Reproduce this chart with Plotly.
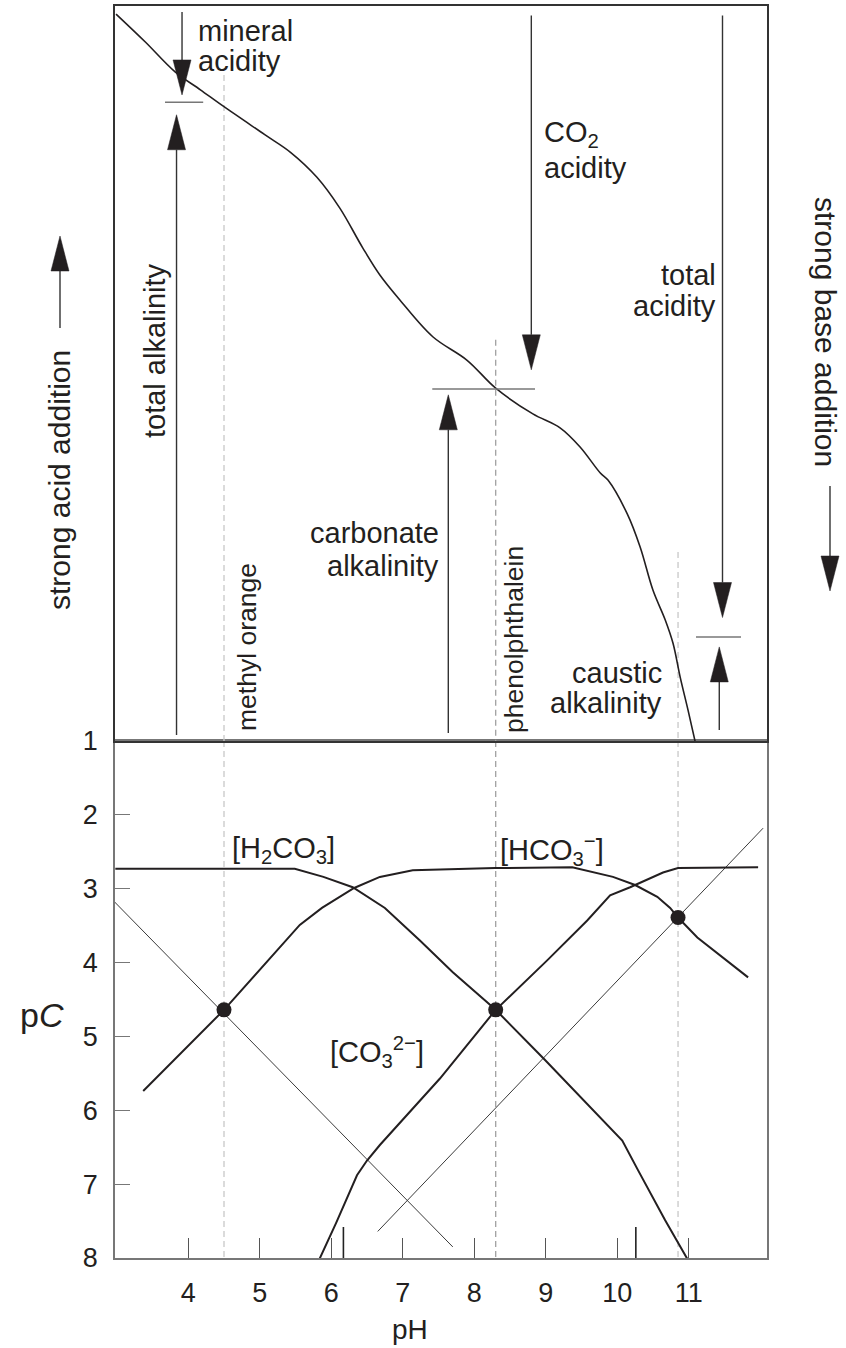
import plotly.graph_objects as go

# ---------------- data ----------------
# lower panel: pC-pH diagram
ph_h2co3 = [2.98, 5.49, 5.89, 6.30, 6.75, 7.24, 7.70, 8.30, 8.99, 9.44, 9.90, 10.07, 10.29, 10.67, 11.05]
pc_h2co3 = [2.73, 2.73, 2.84, 2.98, 3.26, 3.70, 4.13, 4.64, 5.32, 5.77, 6.24, 6.41, 6.81, 7.49, 8.13]

ph_hco3 = [3.37, 4.50, 5.56, 5.87, 6.32, 6.68, 7.14, 8.29, 9.37, 9.94, 10.25, 10.56, 10.74, 10.85, 11.12, 11.83]
pc_hco3 = [5.74, 4.64, 3.49, 3.26, 2.99, 2.84, 2.75, 2.72, 2.71, 2.84, 2.95, 3.11, 3.26, 3.39, 3.66, 4.20]

ph_co3 = [5.79, 6.07, 6.36, 6.50, 6.68, 7.52, 8.30, 9.02, 9.58, 9.90, 10.18, 10.64, 10.85, 11.97]
pc_co3 = [8.11, 7.52, 6.88, 6.68, 6.47, 5.57, 4.64, 3.97, 3.43, 3.09, 2.98, 2.78, 2.72, 2.71]

ph_hplus = [2.93, 7.70]
pc_hplus = [3.14, 7.85]
ph_oh = [6.65, 12.04]
pc_oh = [7.64, 2.18]

ph_equiv = [4.5, 8.3, 10.85]
pc_equiv = [4.64, 4.64, 3.39]

pk_ph = [6.17, 10.26]          # the two taller ticks on the pH axis

ph_ticks = [4, 5, 6, 7, 8, 9, 10, 11]
pc_ticks = [1, 2, 3, 4, 5, 6, 7, 8]

# upper panel: titration curve (pH vs. relative amount of strong acid added)
ph_titr = [2.99, 3.40, 3.82, 4.17, 4.50, 5.07, 5.43, 5.80, 6.12, 6.44, 6.68, 6.96, 7.42, 7.90,
           8.30, 8.82, 9.20, 9.48, 9.76, 9.87, 10.14, 10.32, 10.50, 10.67, 10.78, 10.88, 10.99, 11.09]
acid_titr = [98.9, 95.1, 91.0, 88.6, 86.3, 82.5, 80.1, 76.7, 72.5, 67.1, 63.4, 60.0, 55.0, 51.8,
             48.0, 44.5, 42.6, 40.0, 36.5, 35.5, 30.9, 26.4, 20.5, 16.5, 13.3, 8.7, 4.2, -0.1]

# indicator (dashed) lines: pH and top of line in upper panel
indicator_ph = [4.5, 8.3, 10.85]
indicator_top = [90.6, 54.6, 25.7]

# arrows in upper panel: pH position, tail, tip (relative amount)
arrow_ph = [3.913, 3.836, 7.637, 8.798, 11.472, 11.427]
arrow_tail = [99.2, 0.8, 1.1, 98.7, 98.7, 1.5]
arrow_tip = [87.9, 85.2, 47.1, 50.5, 16.8, 12.8]

# short end-point bars
bar_ph0 = [3.675, 7.413, 11.101]
bar_ph1 = [4.209, 8.850, 11.731]
bar_v = [86.9, 47.9, 14.15]

# ---------------- geometry ----------------
W, H = 846, 1348
ML, MR, MT, MB = 115, 79, 6, 90
PW, PH = W - ML - MR, H - MT - MB
SPLIT = (H - MB - 741) / PH
X_RANGE = [2.9755, 12.0944]
V_RANGE = [0, 100]
XS = PW / (X_RANGE[1] - X_RANGE[0])            # px per pH unit
VS = (1 - SPLIT) * PH / (V_RANGE[1] - V_RANGE[0])  # px per upper unit
PCS = SPLIT * PH / 7.0                         # px per pC unit

INK = "#231f20"
FONT = "Liberation Sans, Arial, Helvetica, sans-serif"


def pp(px, py):
    return (px - ML) / PW, (H - MB - py) / PH


fig = go.Figure()


def line(x, y, axes, color=INK, width=2.0, dash=None, shape="linear"):
    xa, ya = axes
    fig.add_trace(go.Scatter(x=x, y=y, mode="lines", xaxis=xa, yaxis=ya,
                             line=dict(color=color, width=width, dash=dash, shape=shape),
                             hoverinfo="skip", showlegend=False))


# indicator dashed lines
dash_cols = ["#c8c8c8", "#a0a0a0", "#c8c8c8"]
for phv, top, col in zip(indicator_ph, indicator_top, dash_cols):
    line([phv, phv], [top, 0], ("x2", "y2"), color=col, width=1.3, dash="6px,4px")
    line([phv, phv], [1, 8], ("x", "y"), color=col, width=1.3, dash="6px,4px")

# lower panel curves
line(ph_hplus, pc_hplus, ("x", "y"), color="#3a3a3a", width=1.0)
line(ph_oh, pc_oh, ("x", "y"), color="#3a3a3a", width=1.0)
line(ph_h2co3, pc_h2co3, ("x", "y"), width=2.0)
line(ph_hco3, pc_hco3, ("x", "y"), width=2.0)
line(ph_co3, pc_co3, ("x", "y"), width=2.0)
for k in pk_ph:
    line([k, k], [8, 8 - 31 / PCS], ("x", "y"), color="#222", width=1.6)
fig.add_trace(go.Scatter(x=ph_equiv, y=pc_equiv, mode="markers", xaxis="x", yaxis="y",
                         marker=dict(size=15, color=INK), hoverinfo="skip", showlegend=False))

# upper panel titration curve
line(ph_titr, acid_titr, ("x2", "y2"), width=1.6, shape="spline")

# end-point bars
for a, b, v in zip(bar_ph0, bar_ph1, bar_v):
    line([a, b], [v, v], ("x2", "y2"), color="#777", width=1.4)

# arrows (shaft + narrow filled head)
HEAD_L, HEAD_HW = 35, 9
for xph, tail, tip in zip(arrow_ph, arrow_tail, arrow_tip):
    s = 1 if tip > tail else -1
    base = tip - s * HEAD_L / VS
    dx = HEAD_HW / XS
    line([xph, xph], [tail, base], ("x2", "y2"), color="#333", width=1.4)
    fig.add_trace(go.Scatter(x=[xph - dx, xph + dx, xph, xph - dx], y=[base, base, tip, base],
                             mode="lines", fill="toself", fillcolor=INK, xaxis="x2", yaxis="y2",
                             line=dict(color=INK, width=0.5), hoverinfo="skip", showlegend=False))

# outside arrows (paper coordinates)
shapes = []


def side_arrow(px, y_tail, y_tip):
    s = -1 if y_tip < y_tail else 1
    base = y_tip - s * HEAD_L
    x0, y0 = pp(px, y_tail)
    x1, y1 = pp(px, base)
    shapes.append(dict(type="line", xref="paper", yref="paper", x0=x0, y0=y0, x1=x1, y1=y1,
                       line=dict(color="#333", width=1.4)))
    a = pp(px - HEAD_HW, base)
    b = pp(px + HEAD_HW, base)
    c = pp(px, y_tip)
    shapes.append(dict(type="path", xref="paper", yref="paper",
                       path=f"M{a[0]},{a[1]} L{b[0]},{b[1]} L{c[0]},{c[1]} Z",
                       fillcolor=INK, line=dict(color=INK, width=0.5)))


side_arrow(60, 328, 236)
side_arrow(830, 486, 591)

# ---------------- text ----------------
ann = []


def text(s, px, py, size=29, xanchor="left", yanchor="middle", angle=0):
    x, y = pp(px, py)
    ann.append(dict(text=s, x=x, y=y, xref="paper", yref="paper", showarrow=False,
                    xanchor=xanchor, yanchor=yanchor, textangle=angle,
                    font=dict(family=FONT, size=size, color=INK)))


text("mineral", 196, 31)
text("acidity", 196, 61)
text("CO<sub>2</sub>", 542, 134)
text("acidity", 542, 168)
text("total", 718, 275, xanchor="right")
text("acidity", 718, 306, xanchor="right")
text("carbonate", 441, 533, xanchor="right")
text("alkalinity", 441, 566, xanchor="right")
text("caustic", 664, 673, xanchor="right")
text("alkalinity", 664, 703, xanchor="right")
text("total alkalinity", 155, 351, xanchor="center", angle=-90)
text("methyl orange", 247, 647, size=26.5, xanchor="center", angle=-90)
text("phenolphthalein", 514, 640, size=26.5, xanchor="center", angle=-90)
text("strong acid addition", 59, 612, size=30, xanchor="center", yanchor="bottom", angle=-90)
text("strong base addition", 826, 195, size=30, xanchor="center", yanchor="top", angle=90)
text("[H<sub>2</sub>CO<sub>3</sub>]", 230, 850)
text("[HCO<sub>3</sub><sup>−</sup>]", 498, 850)
text("[CO<sub>3</sub><sup>2−</sup>]", 328, 1052)
text("p<i>C</i>", 42, 1015, size=34, xanchor="center")
text("pH", 410, 1329, size=28, xanchor="center")

axis_common = dict(showgrid=False, zeroline=False, mirror=True, showline=True, automargin=False)
fig.update_layout(
    template="none",
    width=W, height=H, margin=dict(l=ML, r=MR, t=MT, b=MB, pad=0, autoexpand=False),
    paper_bgcolor="white", plot_bgcolor="white", showlegend=False,
    font=dict(family=FONT, color=INK),
    xaxis=dict(domain=[0, 1], range=X_RANGE, anchor="y", tickvals=ph_ticks,
               ticks="inside", ticklen=20, tickwidth=1.3, tickcolor="#555",
               ticklabelstandoff=10,
               linecolor="#777", linewidth=1.5, tickfont=dict(size=27, family=FONT, color=INK),
               **axis_common),
    yaxis=dict(domain=[0, SPLIT], range=[8, 1], anchor="x", tickvals=pc_ticks,
               ticks="inside", ticklen=15, tickwidth=1.3, tickcolor="#777",
               ticklabelstandoff=10,
               linecolor="#777", linewidth=1.5, tickfont=dict(size=27, family=FONT, color=INK),
               **axis_common),
    xaxis2=dict(domain=[0, 1], range=X_RANGE, anchor="y2", showticklabels=False, ticks="",
                linecolor="#333", linewidth=1.5, **axis_common),
    yaxis2=dict(domain=[SPLIT, 1], range=V_RANGE, anchor="x2", showticklabels=False, ticks="",
                linecolor="#333", linewidth=1.5, **axis_common),
    shapes=shapes, annotations=ann,
)

fig.write_html("out.html", config={"displayModeBar": False},
               post_script="document.body.style.margin='0';document.body.style.overflow='hidden';")
